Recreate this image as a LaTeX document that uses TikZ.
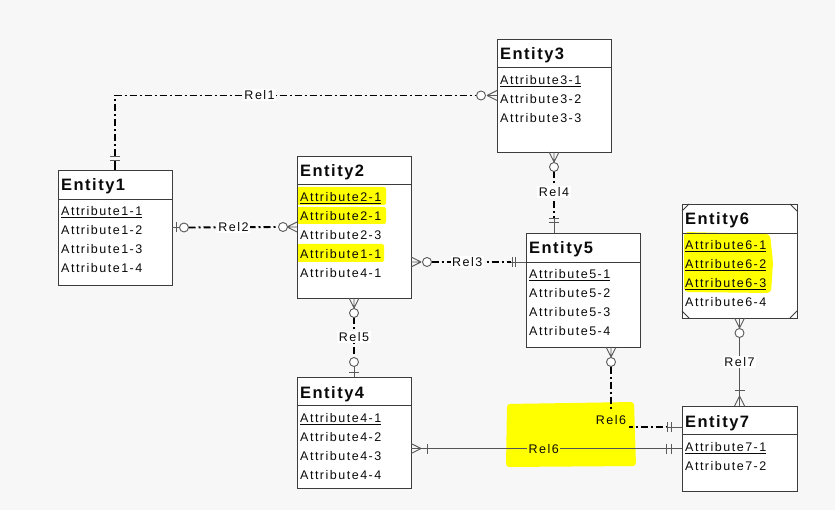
\documentclass[tikz,border=0pt]{standalone}
\usepackage{fontspec}
\setmainfont{Liberation Sans}
\newfontfamily\attf{Liberation Sans}[LetterSpace=12]
\newfontfamily\ttlf{Liberation Sans}[LetterSpace=9]
\definecolor{bgc}{RGB}{247,247,247}
\definecolor{hl}{RGB}{255,255,0}
\definecolor{boxc}{RGB}{60,60,60}
\definecolor{mkc}{RGB}{90,90,90}
\definecolor{linec}{RGB}{85,85,85}
\definecolor{txtc}{RGB}{10,10,10}
\tikzset{
 entbox/.style={fill=white, draw=none, rectangle, anchor=north west, inner sep=0pt, outer sep=0pt},
 frame/.style={draw=boxc, line width=0.9pt},
 ttl/.style={anchor=west, inner sep=0pt, text height=12pt, text depth=0pt, text=txtc, font=\ttlf\fontsize{16.5}{19}\selectfont\bfseries},
 att/.style={anchor=west, inner sep=0pt, text height=9pt, text depth=0pt, text=txtc, font=\attf\fontsize{12.5}{15}\selectfont},
 rel/.style={draw=black, line width=1.9pt, dash pattern=on 7pt off 3pt on 2pt off 3pt},
 relsolid/.style={draw=linec, line width=0.9pt},
 rlab/.style={fill=white, inner sep=1.5pt, text height=9pt, text depth=0pt, text=txtc, font=\attf\fontsize{12.5}{15}\selectfont},
 hlab/.style={rlab, fill=hl},
 mk/.style={draw=mkc, line width=0.9pt},
 pics/crow/.style={code={\draw[mk] (10pt,0pt) -- (0pt,5pt) (10pt,0pt) -- (0pt,0pt) (10pt,0pt) -- (0pt,-5pt);}},
 pics/ring/.style={code={\draw[mk, fill=white] (#1pt,0pt) circle[radius=4.5pt];}},
 pics/tick/.style={code={\draw[mk] (#1pt,-5pt) -- (#1pt,5pt);}},
}
\newcommand\entframe[2]{%
 \draw[frame] (#1.north west) rectangle (#1.south east);
 \draw[frame] ([yshift=-#2pt]#1.north west) -- ([yshift=-#2pt]#1.north east);}
\begin{document}
\begin{tikzpicture}[x=1pt,y=-1pt]
\fill[bgc] (0,0) rectangle (835,510);
\useasboundingbox (0,0) rectangle (835,510);
% entity boxes
\node[entbox, minimum width=114pt, minimum height=115pt] (e1) at (58,170) {};
\node[entbox, minimum width=114pt, minimum height=142pt] (e2) at (297,156) {};
\node[entbox, minimum width=114pt, minimum height=113pt] (e3) at (497,39) {};
\node[entbox, minimum width=114pt, minimum height=111pt] (e4) at (297,377) {};
\node[entbox, minimum width=114pt, minimum height=114pt] (e5) at (526,233) {};
\node[entbox, minimum width=115pt, minimum height=114pt] (e6) at (682,204) {};
\node[entbox, minimum width=115pt, minimum height=85pt] (e7) at (682,406) {};
% highlights
\fill[hl, rounded corners=2pt] (297,187) rectangle (386,205);
\fill[hl, rounded corners=2pt] (297,207) rectangle (386,224);
\fill[hl, rounded corners=2pt] (297,244) rectangle (384,262);
\fill[hl, rounded corners=4pt] (684,232) -- (770,234) -- (773,262) -- (771,293) -- (684,292) -- cycle;
\fill[hl, rounded corners=3pt] (507,404) -- (634,402) -- (636,466) -- (506,467) -- cycle;
% frames
\entframe{e1}{29}
\entframe{e2}{28}
\entframe{e3}{28}
\entframe{e4}{28}
\entframe{e5}{29}
\entframe{e6}{29}
\entframe{e7}{28}
\draw[frame, line width=0.8pt] ([yshift=-7pt]e6.north west) -- ([xshift=7pt]e6.north west);
\draw[frame, line width=0.8pt] ([xshift=-7pt]e6.north east) -- ([yshift=-7pt]e6.north east);
\draw[frame, line width=0.8pt] ([yshift=7pt]e6.south west) -- ([xshift=7pt]e6.south west);
\draw[frame, line width=0.8pt] ([xshift=-7pt]e6.south east) -- ([yshift=7pt]e6.south east);
% texts
\node[ttl] (e1t) at ([xshift=3pt,yshift=-15pt]e1.north west) {Entity1};
\node[att] (e1a1) at ([xshift=3pt,yshift=-41pt]e1.north west) {\underline{Attribute1-1}};
\node[att] (e1a2) at ([xshift=3pt,yshift=-60pt]e1.north west) {Attribute1-2};
\node[att] (e1a3) at ([xshift=3pt,yshift=-79pt]e1.north west) {Attribute1-3};
\node[att] (e1a4) at ([xshift=3pt,yshift=-98pt]e1.north west) {Attribute1-4};
\node[ttl] (e2t) at ([xshift=3pt,yshift=-15pt]e2.north west) {Entity2};
\node[att] (e2a1) at ([xshift=3pt,yshift=-41pt]e2.north west) {\underline{Attribute2-1}};
\node[att] (e2a2) at ([xshift=3pt,yshift=-60pt]e2.north west) {Attribute2-1};
\node[att] (e2a3) at ([xshift=3pt,yshift=-79pt]e2.north west) {Attribute2-3};
\node[att] (e2a4) at ([xshift=3pt,yshift=-98pt]e2.north west) {Attribute1-1};
\node[att] (e2a5) at ([xshift=3pt,yshift=-117pt]e2.north west) {Attribute4-1};
\node[ttl] (e3t) at ([xshift=3pt,yshift=-15pt]e3.north west) {Entity3};
\node[att] (e3a1) at ([xshift=3pt,yshift=-41pt]e3.north west) {\underline{Attribute3-1}};
\node[att] (e3a2) at ([xshift=3pt,yshift=-60pt]e3.north west) {Attribute3-2};
\node[att] (e3a3) at ([xshift=3pt,yshift=-79pt]e3.north west) {Attribute3-3};
\node[ttl] (e4t) at ([xshift=3pt,yshift=-15pt]e4.north west) {Entity4};
\node[att] (e4a1) at ([xshift=3pt,yshift=-41pt]e4.north west) {\underline{Attribute4-1}};
\node[att] (e4a2) at ([xshift=3pt,yshift=-60pt]e4.north west) {Attribute4-2};
\node[att] (e4a3) at ([xshift=3pt,yshift=-79pt]e4.north west) {Attribute4-3};
\node[att] (e4a4) at ([xshift=3pt,yshift=-98pt]e4.north west) {Attribute4-4};
\node[ttl] (e5t) at ([xshift=3pt,yshift=-15pt]e5.north west) {Entity5};
\node[att] (e5a1) at ([xshift=3pt,yshift=-41pt]e5.north west) {\underline{Attribute5-1}};
\node[att] (e5a2) at ([xshift=3pt,yshift=-60pt]e5.north west) {Attribute5-2};
\node[att] (e5a3) at ([xshift=3pt,yshift=-79pt]e5.north west) {Attribute5-3};
\node[att] (e5a4) at ([xshift=3pt,yshift=-98pt]e5.north west) {Attribute5-4};
\node[ttl] (e6t) at ([xshift=3pt,yshift=-15pt]e6.north west) {Entity6};
\node[att] (e6a1) at ([xshift=3pt,yshift=-41pt]e6.north west) {\underline{Attribute6-1}};
\node[att] (e6a2) at ([xshift=3pt,yshift=-60pt]e6.north west) {\underline{Attribute6-2}};
\node[att] (e6a3) at ([xshift=3pt,yshift=-79pt]e6.north west) {\underline{Attribute6-3}};
\node[att] (e6a4) at ([xshift=3pt,yshift=-98pt]e6.north west) {Attribute6-4};
\node[ttl] (e7t) at ([xshift=3pt,yshift=-15pt]e7.north west) {Entity7};
\node[att] (e7a1) at ([xshift=3pt,yshift=-41pt]e7.north west) {\underline{Attribute7-1}};
\node[att] (e7a2) at ([xshift=3pt,yshift=-60pt]e7.north west) {Attribute7-2};
% Rel1
\draw[black, line width=1.9pt] (e1.north) -- ([yshift=10pt]e1.north);
\pic[rotate=90] at (e1.north) {tick=10};
\pic[rotate=90] at (e1.north) {tick=14};
\draw[rel] ([yshift=14pt]e1.north) |- node[rlab, pos=0.7] {Rel1} ([xshift=-20.5pt]e3.west);
\pic[rotate=180] at (e3.west) {crow};
\pic[rotate=180] at (e3.west) {ring=16};
% Rel2
\draw[rel] ([xshift=16.5pt]e1.east) -- node[rlab] {Rel2} ([xshift=-18.5pt]e2.west);
\draw[mk] (e1.east) -- ([xshift=8pt]e1.east);
\pic at (e1.east) {tick=4};
\pic at (e1.east) {ring=12};
\pic[rotate=180] at (e2.west) {crow};
\pic[rotate=180] at (e2.west) {ring=14};
% Rel3
\coordinate (r3b) at ([yshift=-29pt]e5.north west);
\coordinate (r3a) at (e2.east |- r3b);
\draw[rel] ([xshift=20.5pt]r3a) -- node[rlab, pos=0.45] {Rel3} ([xshift=-15pt]r3b);
\draw[mk] ([xshift=-15pt]r3b) -- (r3b);
\pic at (r3a) {crow};
\pic at (r3a) {ring=16};
\pic[rotate=180] at (r3b) {tick=11};
\pic[rotate=180] at (r3b) {tick=14};
% Rel4
\coordinate (r4b) at (e3.south |- e5.north);
\draw[rel] ([yshift=-19.5pt]e3.south) -- node[rlab, pos=0.45] {Rel4} ([yshift=15pt]r4b);
\draw[mk] ([yshift=15pt]r4b) -- (r4b);
\pic[rotate=-90] at (e3.south) {crow};
\pic[rotate=-90] at (e3.south) {ring=15};
\pic[rotate=90] at (r4b) {tick=11};
\pic[rotate=90] at (r4b) {tick=15};
% Rel5
\draw[rel] ([yshift=-19.5pt]e2.south) -- node[rlab] {Rel5} ([yshift=19.5pt]e4.north);
\draw[mk] (e4.north) -- ([yshift=10.5pt]e4.north);
\pic[rotate=-90] at (e2.south) {crow};
\pic[rotate=-90] at (e2.south) {ring=15};
\pic[rotate=90] at (e4.north) {ring=15};
\pic[rotate=90] at (e4.north) {tick=5};
% Rel6 (Entity5 - Entity7)
\coordinate (r6a) at ([xshift=85pt]e5.south west);
\coordinate (r6b) at ([yshift=-21pt]e7.north west);
\draw[rel] ([yshift=-19.5pt]r6a) |- node[hlab, pos=0.5, yshift=7pt, inner ysep=4.5pt, inner xsep=3pt] {Rel6} ([xshift=-16pt]r6b);
\draw[mk] ([xshift=-16pt]r6b) -- (r6b);
\pic[rotate=-90] at (r6a) {crow};
\pic[rotate=-90] at (r6a) {ring=15};
\pic[rotate=180] at (r6b) {tick=11};
\pic[rotate=180] at (r6b) {tick=15};
% Rel6 (Entity4 - Entity7)
\coordinate (r6c) at (e4.east |- e7.west);
\draw[relsolid] (r6c) -- node[hlab, pos=0.49] {Rel6} (e7.west);
\pic at (r6c) {crow};
\pic at (r6c) {tick=16};
\pic[rotate=180] at (e7.west) {tick=11};
\pic[rotate=180] at (e7.west) {tick=16};
% Rel7
\draw[relsolid] ([yshift=-19.5pt]e6.south) -- node[rlab, pos=0.36] {Rel7} (e7.north);
\pic[rotate=-90] at (e6.south) {crow};
\pic[rotate=-90] at (e6.south) {ring=15};
\pic[rotate=90] at (e7.north) {crow};
\pic[rotate=90] at (e7.north) {tick=16};
\end{tikzpicture}
\end{document}
